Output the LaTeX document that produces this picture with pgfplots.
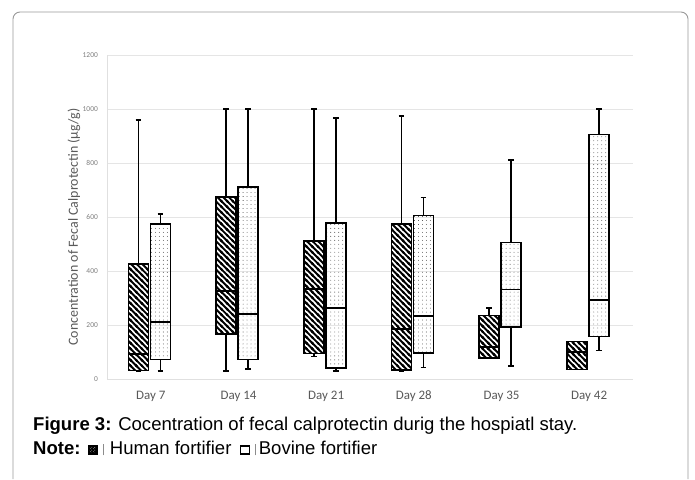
\documentclass[border=0pt]{standalone}
\usepackage{pgfplots}
\pgfplotsset{compat=1.18}
\usetikzlibrary{patterns}
\usepackage{fontspec}
\setmainfont{Liberation Sans}
\newfontfamily\carlito[Numbers=Lining]{Carlito}
\definecolor{txtgray}{HTML}{595959}
\definecolor{tickgray}{HTML}{7F7F7F}
\pgfdeclarepatternformonly{humlines}{\pgfqpoint{-1pt}{-1pt}}{\pgfqpoint{6.7pt}{6.7pt}}{\pgfqpoint{5.7pt}{5.7pt}}{%
  \pgfsetlinewidth{1.9pt}%
  \pgfpathmoveto{\pgfqpoint{-1pt}{6.7pt}}\pgfpathlineto{\pgfqpoint{6.7pt}{-1pt}}%
  \pgfpathmoveto{\pgfqpoint{-1pt}{1pt}}\pgfpathlineto{\pgfqpoint{1pt}{-1pt}}%
  \pgfpathmoveto{\pgfqpoint{4.7pt}{6.7pt}}\pgfpathlineto{\pgfqpoint{6.7pt}{4.7pt}}%
  \pgfusepath{stroke}}
\pgfdeclarepatternformonly{smalllines}{\pgfqpoint{-1pt}{-1pt}}{\pgfqpoint{4pt}{4pt}}{\pgfqpoint{3pt}{3pt}}{%
  \pgfsetlinewidth{1.3pt}%
  \pgfpathmoveto{\pgfqpoint{-1pt}{4pt}}\pgfpathlineto{\pgfqpoint{4pt}{-1pt}}%
  \pgfpathmoveto{\pgfqpoint{-1pt}{1pt}}\pgfpathlineto{\pgfqpoint{1pt}{-1pt}}%
  \pgfpathmoveto{\pgfqpoint{2pt}{4pt}}\pgfpathlineto{\pgfqpoint{4pt}{2pt}}%
  \pgfusepath{stroke}}
\pgfdeclarepatternformonly{sdots}{\pgfqpoint{-1pt}{-1pt}}{\pgfqpoint{1pt}{1pt}}{\pgfqpoint{4pt}{4pt}}{%
  \pgfpathcircle{\pgfqpoint{0pt}{0pt}}{0.42pt}\pgfusepath{fill}}
\pgfplotsset{
  hbox/.style={draw=black, line width=1.7bp, pattern=humlines},
  bbox/.style={draw=black, line width=1.7bp, pattern=sdots, pattern color=black!85},
  wline/.style={draw=black, line width=1.6bp, mark=none},
}
\begin{document}
\begin{tikzpicture}
\fill[white] (0,0) rectangle (695bp,479bp);
\draw[black!40, line width=0.9bp, rounded corners=7bp] (13bp,0) -- (13bp,467bp) -- (688bp,467bp) -- (688bp,0);
\begin{axis}[
  at={(107bp,100bp)}, anchor=south west,
  width=526bp, height=324bp, scale only axis,
  xmin=-0.5, xmax=5.5, ymin=0, ymax=1200,
  xtick={0,1,2,3,4,5},
  xticklabels={Day 7,Day 14,Day 21,Day 28,Day 35,Day 42},
  ytick={0,200,400,600,800,1000,1200},
  axis lines=left, axis line style={-, draw=black!12, line width=0.8bp},
  ymajorgrids, grid style={draw=black!10, line width=0.8bp},
  tick style={draw=none},
  unbounded coords=jump,
  /pgf/number format/assume math mode=true,
  /pgf/number format/1000 sep={},
  yticklabel style={font=\carlito\fontsize{7.5}{9}\selectfont, text=tickgray, xshift=-3.5bp},
  xticklabel style={font=\carlito\fontsize{13}{15}\selectfont, text=txtgray, yshift=-6bp,
    text height=9bp, text depth=3bp},
  ylabel={Concentration of Fecal Calprotectin (μg/g)},
  ylabel style={font=\carlito\fontsize{14}{16}\selectfont, text=txtgray,
    at={(axis description cs:-0.0627,0.469)}, anchor=center},
]
% whiskers and caps, human fortifier
\addplot[wline] coordinates {
 (-0.14,426) (-0.14,960) (nan,nan) (-0.1725,960) (-0.1075,960) (nan,nan)
 (-0.14,32) (-0.14,30) (nan,nan) (-0.1725,30) (-0.1075,30) (nan,nan)
 (0.86,673) (0.86,1000) (nan,nan) (0.8275,1000) (0.8925,1000) (nan,nan)
 (0.86,166) (0.86,30) (nan,nan) (0.8275,30) (0.8925,30) (nan,nan)
 (1.86,510) (1.86,1000) (nan,nan) (1.8275,1000) (1.8925,1000) (nan,nan)
 (1.86,94) (1.86,84) (nan,nan) (1.8275,84) (1.8925,84) (nan,nan)
 (2.86,575) (2.86,975) (nan,nan) (2.8275,975) (2.8925,975) (nan,nan)
 (2.86,33) (2.86,30) (nan,nan) (2.8275,30) (2.8925,30) (nan,nan)
 (3.86,235) (3.86,262) (nan,nan) (3.8275,262) (3.8925,262)
};
% whiskers and caps, bovine fortifier
\addplot[wline] coordinates {
 (0.11,574) (0.11,610) (nan,nan) (0.0775,610) (0.1425,610) (nan,nan)
 (0.11,72) (0.11,30) (nan,nan) (0.0775,30) (0.1425,30) (nan,nan)
 (1.11,710) (1.11,1000) (nan,nan) (1.0775,1000) (1.1425,1000) (nan,nan)
 (1.11,72) (1.11,37) (nan,nan) (1.0775,37) (1.1425,37) (nan,nan)
 (2.11,579) (2.11,967) (nan,nan) (2.0775,967) (2.1425,967) (nan,nan)
 (2.11,40) (2.11,30) (nan,nan) (2.0775,30) (2.1425,30) (nan,nan)
 (3.11,606) (3.11,672) (nan,nan) (3.0775,672) (3.1425,672) (nan,nan)
 (3.11,97) (3.11,42) (nan,nan) (3.0775,42) (3.1425,42) (nan,nan)
 (4.11,506) (4.11,812) (nan,nan) (4.0775,812) (4.1425,812) (nan,nan)
 (4.11,192) (4.11,48) (nan,nan) (4.0775,48) (4.1425,48) (nan,nan)
 (5.11,905) (5.11,1000) (nan,nan) (5.0775,1000) (5.1425,1000) (nan,nan)
 (5.11,157) (5.11,105) (nan,nan) (5.0775,105) (5.1425,105)
};
% boxes, human fortifier (lower quartile to upper quartile)
\addplot[hbox] coordinates {(-0.255,32) (-0.025,32) (-0.025,426) (-0.255,426)} -- cycle;
\addplot[hbox] coordinates {(0.745,166) (0.975,166) (0.975,673) (0.745,673)} -- cycle;
\addplot[hbox] coordinates {(1.745,94) (1.975,94) (1.975,510) (1.745,510)} -- cycle;
\addplot[hbox] coordinates {(2.745,33) (2.975,33) (2.975,575) (2.745,575)} -- cycle;
\addplot[hbox] coordinates {(3.745,77) (3.975,77) (3.975,235) (3.745,235)} -- cycle;
\addplot[hbox] coordinates {(4.745,35) (4.975,35) (4.975,139) (4.745,139)} -- cycle;
% boxes, bovine fortifier
\addplot[bbox] coordinates {(-0.005,72) (0.225,72) (0.225,574) (-0.005,574)} -- cycle;
\addplot[bbox] coordinates {(0.995,72) (1.225,72) (1.225,710) (0.995,710)} -- cycle;
\addplot[bbox] coordinates {(1.995,40) (2.225,40) (2.225,579) (1.995,579)} -- cycle;
\addplot[bbox] coordinates {(2.995,97) (3.225,97) (3.225,606) (2.995,606)} -- cycle;
\addplot[bbox] coordinates {(3.995,192) (4.225,192) (4.225,506) (3.995,506)} -- cycle;
\addplot[bbox] coordinates {(4.995,157) (5.225,157) (5.225,905) (4.995,905)} -- cycle;
% medians
\addplot[wline] coordinates {
 (-0.255,92) (-0.025,92) (nan,nan) (0.745,325) (0.975,325) (nan,nan)
 (1.745,334) (1.975,334) (nan,nan) (2.745,186) (2.975,186) (nan,nan)
 (3.745,119) (3.975,119) (nan,nan) (4.745,101) (4.975,101) (nan,nan)
 (-0.005,210) (0.225,210) (nan,nan) (0.995,240) (1.225,240) (nan,nan)
 (1.995,262) (2.225,262) (nan,nan) (2.995,233) (3.225,233) (nan,nan)
 (3.995,332) (4.225,332) (nan,nan) (4.995,292) (5.225,292)
};
\end{axis}
\node[anchor=base west, inner sep=0, font=\fontsize{18.6}{22}\selectfont] at (33bp,48bp)
  {\textbf{Figure 3:} Cocentration of fecal calprotectin durig the hospiatl stay.};
\node[anchor=base west, inner sep=0, font=\fontsize{18.6}{22}\selectfont] (note) at (33bp,25bp) {\textbf{Note:}};
\path (note.base east) ++(8bp,0) coordinate (i1);
\draw[line width=1.5bp, pattern=smalllines] (i1) rectangle ++(8.5bp,8bp);
\draw[black!45, line width=0.5bp] (i1) ++(15bp,-1.5bp) -- ++(0,11bp);
\node[anchor=base west, inner sep=0, font=\fontsize{18.6}{22}\selectfont] (h) at ([xshift=21bp]i1) {Human fortifier};
\path (h.base east) ++(9bp,0) coordinate (i2);
\draw[line width=1.5bp, fill=white] (i2) rectangle ++(9bp,8bp);
\draw[black!45, line width=0.5bp] (i2) ++(15bp,-1.5bp) -- ++(0,11bp);
\node[anchor=base west, inner sep=0, font=\fontsize{18.6}{22}\selectfont] at ([xshift=18bp]i2) {Bovine fortifier};
\end{tikzpicture}
\end{document}
